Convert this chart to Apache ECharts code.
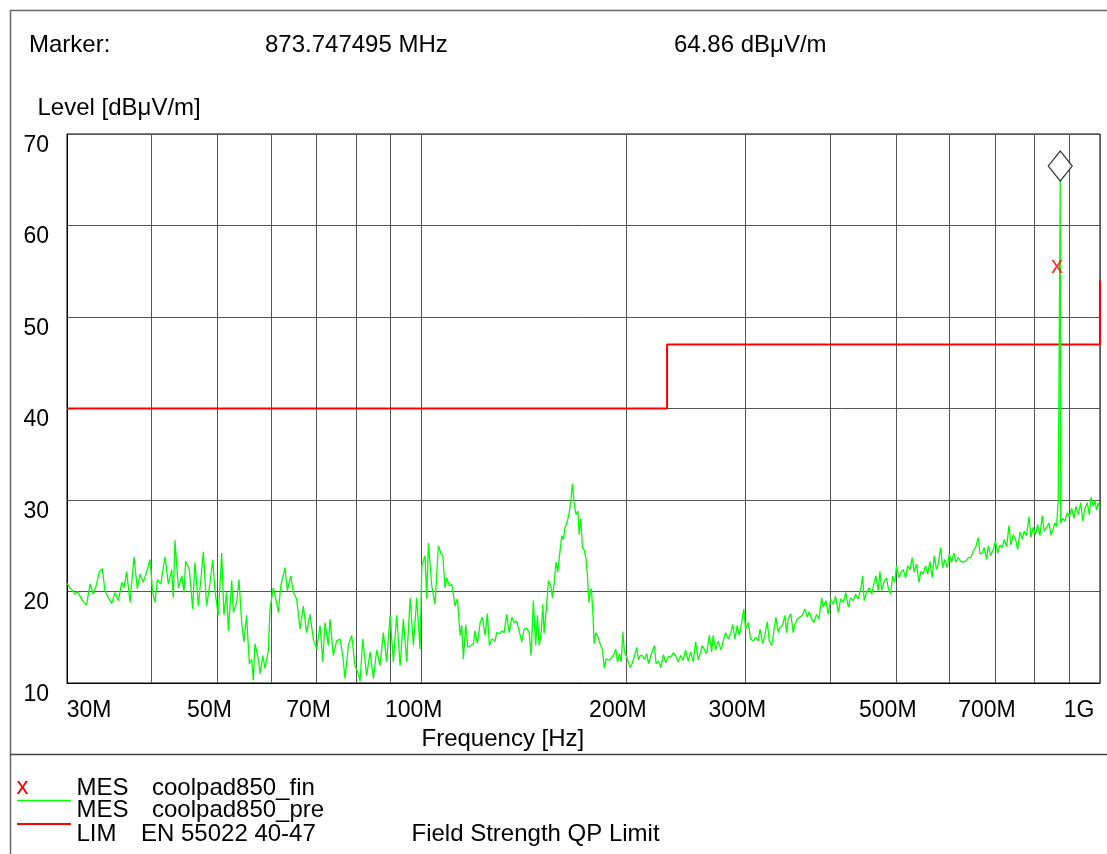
<!DOCTYPE html>
<html><head><meta charset="utf-8">
<script src="https://cdn.jsdelivr.net/npm/echarts@6/dist/echarts.min.js"></script>
<style>html,body{margin:0;padding:0;background:#fff}#c{width:1107px;height:854px}</style>
</head><body><div id="c"></div>
<script>
// ---------- data ----------
const markerFreq = 873.747495;   // MHz
const markerLevel = 64.86;       // dBuV/m

const preFreq = [
30.0,30.31,30.58,30.82,31.07,31.36,31.70,32.06,32.44,32.80,33.17,33.45,33.82,34.12,34.52,34.92,35.31,35.72,36.13,36.41,
36.73,37.16,37.66,38.09,38.44,38.86,39.41,39.77,40.13,40.44,40.77,41.24,41.84,42.32,42.80,43.03,43.28,43.78,44.29,44.63,
44.88,45.44,45.96,46.32,46.86,47.24,47.65,48.19,48.75,49.20,49.57,50.14,50.72,51.11,51.57,51.88,52.48,52.76,53.35,53.79,
54.28,54.70,55.19,55.71,56.16,56.46,56.78,57.44,57.77,58.30,58.75,59.42,59.76,60.43,61.11,61.48,61.98,62.87,63.38,64.12,
64.68,65.41,66.18,66.91,67.67,68.46,69.22,70.01,70.83,71.47,72.02,72.85,73.27,74.08,74.92,75.81,76.50,77.08,77.97,78.87,
79.74,80.66,81.13,81.87,82.96,83.94,84.87,85.83,86.84,87.80,88.80,89.84,90.83,91.86,92.94,93.97,95.04,96.15,97.22,98.32,
99.46,100.04,101.14,101.71,102.31,103.49,104.63,105.84,
106.71,107.42,108.25,108.86,109.87,110.76,111.35,111.99,112.90,113.94,114.59,115.20,116.13,116.96,118.15,119.18,119.85,120.83,121.94,122.88,
123.99,125.00,125.85,126.88,128.28,129.00,130.21,131.27,132.27,133.46,134.57,135.80,136.84,138.07,139.22,140.49,141.57,142.84,144.02,145.00,
146.11,147.28,148.15,149.01,150.01,150.87,151.52,152.53,153.78,155.04,155.87,156.75,157.80,158.77,159.63,160.92,161.78,162.70,164.02,164.97,
165.92,166.81,167.76,168.87,169.93,170.67,171.66,172.57,173.72,174.71,175.56,176.40,177.17,177.94,178.78,179.55,180.57,181.62,182.67,183.73,
184.71,185.94,186.99,188.15,189.16,190.25,191.72,193.26,194.38,195.70,196.83,197.96,199.01,200.60,201.77,202.94,204.51,205.87,207.52,208.74,
209.95,211.57,212.98,214.69,215.96,217.72,219.18,220.34,221.59,223.42,225.24,227.20,229.02,231.0,232.9,234.9,236.8,238.9,240.9,243.0,
244.9,247.2,249.2,251.4,253.4,255.7,257.8,259.2,260.9,263.0,265.5,267.6,269.0,271.2,273.7,276.2,278.3,280.6,283.1,285.5,
287.4,289.6,291.9,293.9,296.3,298.5,300.2,303.0,
305.5,308.2,310.9,313.5,315.3,318.2,320.6,323.2,325.4,328.1,329.8,332.8,335.5,337.4,340.5,343.1,345.0,347.1,350.0,353.0,
355.0,357.9,361.1,364.4,367.2,370.2,372.7,375.7,378.6,382.0,385.2,388.7,390.8,394.3,397.5,400.8,404.3,407.5,411.3,414.7,
418.3,422.0,425.5,428.9,432.7,436.1,440.1,444.2,446.7,449.1,452.7,456.9,460.7,464.2,467.3,471.1,473.8,476.5,480.2,484.5,
487.3,491.3,494.6,498.4,501.2,505.4,508.8,512.7,516.9,520.5,524.6,528.6,532.2,536.4,540.9,544.5,548.7,553.1,557.1,561.5,
565.8,569.6,574.1,577.5,582.2,586.2,590.6,595.4,599.4,604.3,609.0,613.0,618.0,623.1,628.5,633.5,639.5,644.7,650.3,655.5,
661.5,665.3,670.5,674.9,680.3,684.4,690.0,696.0,701.6,706.6,712.1,717.6,722.4,728.2,734.2,739.1,744.8,750.8,756.2,762.1,
768.0,773.1,779.3,785.7,791.0,797.1,803.5,809.3,815.6,821.9,827.4,834.0,840.9,846.6,853.1,857.9,862.8,867.9,873.747495,875.0,
880.9,887.6,895.0,901.1,908.4,915.4,921.5,929.0,936.6,942.8,950.1,957.8,964.3,969.8,977.3,982.8,988.4,994.3,1000
];
const preLevel = [
20.9,20.4,20.1,19.7,20.0,19.5,18.9,18.5,20.8,19.7,20.8,22.1,22.5,20.1,19.3,18.7,19.9,19.0,21.0,20.4,
22.2,18.8,23.8,20.3,21.9,21.0,22.4,23.5,19.9,18.8,21.3,20.8,23.8,20.8,22.4,19.3,25.6,20.4,21.7,19.9,
23.3,22.4,18.1,23.2,18.4,21.2,24.3,18.4,21.0,23.5,20.1,17.4,24.2,17.4,19.9,15.7,21.2,17.7,18.8,21.3,
16.6,14.5,17.4,12.1,12.6,10.3,14.3,12.6,11.0,13.0,11.6,13.6,18.1,20.4,18.8,17.7,20.6,22.6,20.1,21.7,
19.9,19.2,15.9,18.4,15.5,17.5,14.8,13.7,16.3,12.3,16.6,14.1,17.0,13.0,14.6,14.8,13.0,10.5,14.1,15.2,
11.9,11.0,10.2,14.8,10.8,13.4,10.5,13.6,11.9,15.5,12.3,17.4,12.3,17.4,11.9,17.0,12.3,19.3,14.1,19.3,
13.7,22.8,23.9,19.2,25.3,20.6,18.6,25.0,
24.2,23.9,20.4,21.5,20.6,20.8,20.9,18.4,19.2,15.2,16.3,12.6,16.4,13.9,14.1,14.3,15.7,14.3,16.6,17.2,
15.2,17.6,14.1,14.8,14.6,15.5,15.4,15.7,15.5,17.5,15.5,17.2,16.6,16.8,15.7,14.5,15.9,16.0,15.5,13.0,
19.0,14.1,17.4,14.1,15.4,18.6,15.4,17.7,21.2,20.6,19.3,20.8,23.2,22.1,23.9,26.1,25.7,27.0,27.7,28.6,
29.9,31.8,29.7,28.4,28.8,26.2,28.0,24.8,24.5,23.5,21.7,18.8,19.9,20.3,17.7,14.3,15.5,15.2,14.6,14.8,
13.6,11.6,12.6,12.8,12.5,12.6,13.0,13.7,12.3,13.2,12.3,15.6,13.4,12.8,12.9,11.7,12.2,12.3,13.9,12.5,
13.0,13.0,12.6,13.2,12.1,13.0,12.9,14.1,12.1,12.4,11.7,13.1,12.2,12.9,12.8,13.3,13.0,12.3,13.0,12.5,
13.6,12.4,13.4,12.3,14.5,12.5,13.4,14.1,13.7,13.2,15.2,13.4,15.2,13.6,14.6,13.6,14.6,15.5,14.8,15.4,
16.4,14.8,16.3,15.2,16.6,18.1,15.9,16.6,
14.8,14.6,15.0,14.6,15.9,14.3,15.2,16.7,14.6,14.1,15.2,17.2,15.5,16.1,16.3,17.4,15.5,17.0,17.6,15.5,
16.4,17.0,17.2,17.4,18.1,17.2,17.8,17.0,16.6,17.5,17.0,19.3,18.3,19.0,17.5,19.2,18.6,19.5,17.7,19.2,
18.8,19.9,18.3,19.3,19.0,19.7,19.2,20.4,21.7,19.0,19.9,20.4,19.7,20.8,21.7,20.1,22.2,20.1,21.0,21.5,
20.4,19.7,21.7,21.0,22.8,21.5,22.1,22.4,21.5,22.8,22.4,23.7,22.1,23.0,21.0,22.2,21.9,22.8,21.9,23.3,
21.5,23.9,22.4,23.0,24.8,22.6,23.5,22.6,24.1,23.2,24.2,23.2,23.7,23.3,23.2,23.3,23.7,23.7,24.4,24.8,
25.9,24.1,24.2,24.8,23.5,25.0,23.9,24.6,25.5,24.2,25.1,24.8,25.7,24.9,27.2,25.1,26.2,25.7,24.6,26.5,
25.7,26.6,26.1,28.2,25.9,27.0,26.2,27.3,26.1,28.3,26.6,27.0,27.5,26.2,26.8,27.5,27.1,30.1,64.86,27.5,
28.0,27.7,28.6,28.2,29.1,28.0,29.3,28.4,29.7,27.7,29.1,29.7,28.4,30.3,29.3,30.0,28.9,29.7,29.1
];

const finFreq = [864.0];
const finLevel = [55.5];

const limFreq = [30, 230, 230, 1000, 1000];
const limLevel = [40, 40, 47, 47, 54];

const xTickValues = [30, 50, 70, 100, 200, 300, 500, 700, 1000];
const xTickLabels = ['30M', '50M', '70M', '100M', '200M', '300M', '500M', '700M', '1G'];
const xGridValues = [30, 40, 50, 60, 70, 80, 90, 100, 200, 300, 400, 500, 600, 700, 800, 900, 1000];
const yTicks = [10, 20, 30, 40, 50, 60, 70];

const legendKinds = ['MES', 'MES', 'LIM'];
const legendNames = ['coolpad850_fin', 'coolpad850_pre', 'EN 55022 40-47'];
const legendNote = 'Field Strength QP Limit';

// ---------- chart ----------
const FONT = '"Liberation Sans", Arial, sans-serif';
const zip = (a, b) => a.map((v, i) => [v, b[i]]);

function xLabel(v) {
  let best = 0, bd = Infinity;
  xTickValues.forEach((t, i) => { const d = Math.abs(Math.log(v / t)); if (d < bd) { bd = d; best = i; } });
  const txt = xTickLabels[best];
  if (best === 0) return '{first|' + txt + '}';
  if (best === xTickValues.length - 1) return '{last|' + txt + '}';
  return '{c|' + txt + '}';
}
const lblBase = { fontSize: 23, fontFamily: FONT, color: '#000' };

function txt(x, y, s, color) {
  return { type: 'text', x: x, y: y, silent: true,
    style: { text: s, fontSize: 24, fontFamily: FONT, fill: color || '#000', verticalAlign: 'middle', align: 'left' } };
}
function line(x1, y1, x2, y2, color, w) {
  return { type: 'line', silent: true, shape: { x1, y1, x2, y2 }, style: { stroke: color, lineWidth: w } };
}

const rowY = [788, 810.5, 834];
const graphics = [
  line(10, 10.5, 1107, 10.5, '#666', 1.5),
  line(10.5, 10, 10.5, 854, '#666', 1.5),
  line(10, 754.5, 1107, 754.5, '#444', 1.5),
  txt(29, 45, 'Marker:'),
  txt(265, 45, markerFreq.toFixed(6) + ' MHz'),
  txt(674, 45, markerLevel.toFixed(2) + ' dB\u03bcV/m'),
  txt(37.5, 108, 'Level [dB\u03bcV/m]'),
  txt(421.5, 739.5, 'Frequency [Hz]'),
  txt(16.5, 787, 'x', '#ff0000'),
  line(17, 800.5, 71, 800.5, '#00ff00', 1.5),
  line(17, 824, 71, 824, '#ff0000', 2),
  txt(411.5, rowY[2], legendNote)
];
legendKinds.forEach((k, i) => {
  graphics.push(txt(76.5, rowY[i], k));
  graphics.push(txt(i === 2 ? 141 : 152, rowY[i], legendNames[i]));
});

const chart = echarts.init(document.getElementById('c'), null, { renderer: 'canvas' });
chart.setOption({
  animation: false,
  backgroundColor: '#fff',
  grid: { left: 67, top: 134, right: 7, bottom: 171, show: true, borderColor: '#000', borderWidth: 1,
          containLabel: false, outerBoundsMode: 'none' },
  xAxis: {
    type: 'log', logBase: 10, min: xTickValues[0], max: xTickValues[xTickValues.length - 1],
    axisLine: { show: true, lineStyle: { color: '#000', width: 1 } },
    axisTick: { show: false, customValues: xGridValues },
    splitLine: { show: true, lineStyle: { color: '#555', width: 1 } },
    minorTick: { show: false }, minorSplitLine: { show: false },
    axisLabel: {
      customValues: xTickValues, margin: 16, hideOverlap: false,
      formatter: xLabel, ...lblBase,
      rich: {
        c: { ...lblBase, padding: [0, 16, 0, 0] },
        first: { ...lblBase, padding: [0, 0, 0, 44] },
        last: { ...lblBase, padding: [0, 42, 0, 0] }
      }
    }
  },
  yAxis: {
    type: 'value', min: yTicks[0], max: yTicks[yTicks.length - 1], interval: 10,
    axisLine: { show: true, lineStyle: { color: '#000', width: 1 } },
    axisTick: { show: false },
    splitLine: { show: true, lineStyle: { color: '#555', width: 1 } },
    axisLabel: { ...lblBase, margin: 18, verticalAlign: 'top', lineHeight: 23 }
  },
  series: [
    { name: 'limit', type: 'line', data: zip(limFreq, limLevel), showSymbol: false, symbol: 'none',
      lineStyle: { color: '#ff0000', width: 2 }, silent: true, z: 3 },
    { name: 'coolpad850_pre', type: 'line', data: zip(preFreq, preLevel), showSymbol: false, symbol: 'none',
      sampling: null, lineStyle: { color: '#00ff00', width: 1.3 }, silent: true, z: 4 },
    { name: 'marker', type: 'scatter', data: [[markerFreq, markerLevel]], symbol: 'diamond',
      symbolSize: [24, 30], symbolOffset: [0, -15],
      itemStyle: { color: '#fff', borderColor: '#000', borderWidth: 1.2 }, silent: true, z: 6 },
    { name: 'coolpad850_fin', type: 'scatter', data: zip(finFreq, finLevel), symbol: 'circle', symbolSize: 2,
      itemStyle: { color: 'transparent' }, silent: true, z: 7,
      label: { show: true, position: 'inside', formatter: 'x', color: '#ff0000', fontSize: 24, fontFamily: FONT } }
  ],
  graphic: graphics
});
</script>
</body></html>
